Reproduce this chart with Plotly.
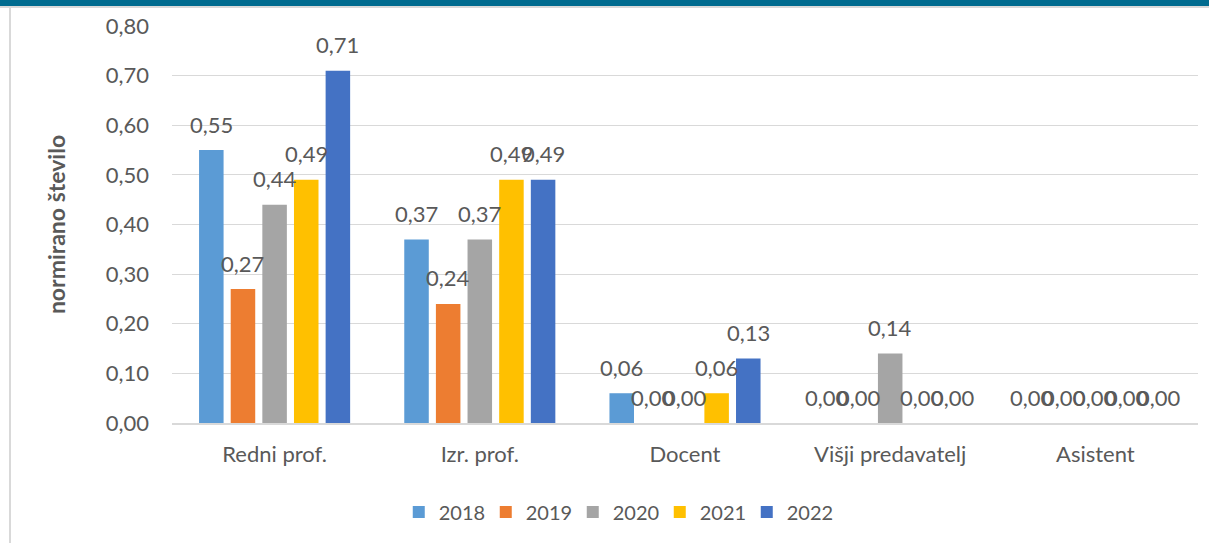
import plotly.graph_objects as go

categories = ["Redni prof.", "Izr. prof.", "Docent", "Višji predavatelj", "Asistent"]
years = ["2018", "2019", "2020", "2021", "2022"]
v2018 = [0.55, 0.37, 0.06, 0.00, 0.00]
v2019 = [0.27, 0.24, 0.00, 0.00, 0.00]
v2020 = [0.44, 0.37, 0.00, 0.14, 0.00]
v2021 = [0.49, 0.49, 0.06, 0.00, 0.00]
v2022 = [0.71, 0.49, 0.13, 0.00, 0.00]
y_ticks = [0.0, 0.1, 0.2, 0.3, 0.4, 0.5, 0.6, 0.7, 0.8]
y_title = "normirano število"

series = [v2018, v2019, v2020, v2021, v2022]
colors = ["#5B9BD5", "#ED7D31", "#A5A5A5", "#FFC000", "#4472C4"]
TXT = "#595959"
FONT = "Lato"
BARGAP = 0.229
GROUPGAP = 0.225

def fmt(v):
    return f"{v:.2f}".replace(".", ",")

fig = go.Figure()
for name, vals, col in zip(years, series, colors):
    fig.add_trace(go.Bar(x=categories, y=vals, name=name, marker=dict(color=col, line=dict(width=0)),
                         hoverinfo="skip"))

# data labels above each bar
n = len(series)
slot = (1 - BARGAP) / n
annotations = []
for k, vals in enumerate(series):
    for i, v in enumerate(vals):
        xc = i - (1 - BARGAP) / 2 + (k + 0.5) * slot
        annotations.append(dict(x=xc, y=v, xref="x", yref="y", text=fmt(v), showarrow=False,
                                yanchor="middle", yshift=26,
                                font=dict(family=FONT, size=22, color=TXT)))

fig.update_layout(
    width=1209, height=543,
    margin=dict(l=172, r=11, t=26, b=120),
    paper_bgcolor="white", plot_bgcolor="white",
    barmode="group", bargap=BARGAP, bargroupgap=GROUPGAP,
    font=dict(family=FONT, size=22, color=TXT),
    annotations=annotations,
    showlegend=True,
    legend=dict(orientation="h", xanchor="center", x=0.433, yanchor="middle", y=-0.224,
                font=dict(family=FONT, size=20, color=TXT), traceorder="normal",
                itemwidth=30, entrywidth=42, entrywidthmode="pixels"),
    xaxis=dict(type="category", showgrid=False, showline=True, linecolor="#D9D9D9", linewidth=1.5,
               ticks="", ticklabelstandoff=11, tickfont=dict(family=FONT, size=22, color=TXT)),
    yaxis=dict(range=[0, 0.8], tickvals=y_ticks, ticktext=[fmt(t) for t in y_ticks],
               showgrid=True, gridcolor="#D9D9D9", gridwidth=1.2, zeroline=False, showline=False,
               ticks="", ticklabelstandoff=22, tickfont=dict(family=FONT, size=22, color=TXT),
               title=dict(text=f"<b>{y_title}</b>", standoff=33,
                          font=dict(family=FONT, size=23, color=TXT))),
    shapes=[
        dict(type="rect", xref="paper", yref="paper", x0=-0.3, x1=1.2, ysizemode="pixel", yanchor=1,
             y0=20, y1=40, fillcolor="#006B8F", line=dict(width=0), layer="above"),
        dict(type="line", xref="paper", yref="paper", x0=-0.3, x1=1.2, ysizemode="pixel", yanchor=1,
             y0=19, y1=19, line=dict(color="#D9D9D9", width=2)),
        dict(type="line", xref="paper", yref="paper", xsizemode="pixel", xanchor=0, x0=-162, x1=-162,
             ysizemode="pixel", yanchor=1, y0=19, y1=-560, line=dict(color="#D9D9D9", width=2)),
    ],
)

fig.write_html("out.html", config={"displayModeBar": False},
               post_script="document.body.style.margin='0px';")
